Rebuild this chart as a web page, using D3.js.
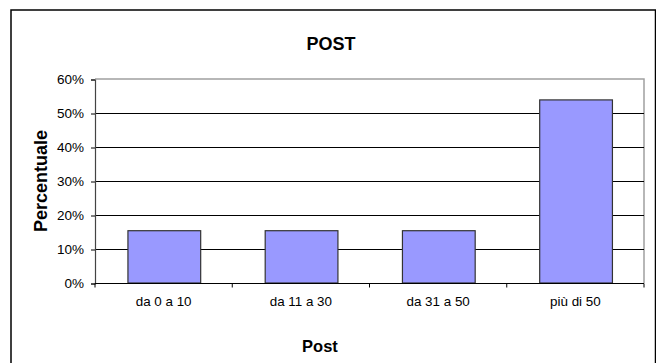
<!DOCTYPE html>
<html><head><meta charset="utf-8">
<script src="https://cdn.jsdelivr.net/npm/d3@7"></script>
<style>body{margin:0;background:#fff}svg{display:block}text{font-family:Arial,"Liberation Sans",sans-serif}</style>
</head><body><svg id="c" width="656" height="363"></svg>
<script>
const categories = ["da 0 a 10", "da 11 a 30", "da 31 a 50", "più di 50"];
const values = [15.38, 15.38, 15.38, 53.85];
const yTicks = [0, 10, 20, 30, 40, 50, 60];
const title = "POST";
const xTitle = "Post";
const yTitle = "Percentuale";

const svg = d3.select("#c");
const L = 95, R = 644, T = 79, B = 283;
const FONT = "Arial,'Liberation Sans',sans-serif";

// outer frame
svg.append("rect").attr("x", 11).attr("y", 10).attr("width", 644.5).attr("height", 360)
  .attr("fill", "#fff").attr("stroke", "#000").attr("stroke-width", 1.5);

const xb = d3.scaleBand().domain(categories).range([L, R]);
const y = d3.scaleLinear().domain([0, 60]).range([B, T]);

// plot area border (top/right gray)
svg.append("path").attr("d", `M${L},${T}H${R}V${B}`).attr("fill", "none").attr("stroke", "#a0a0a0").attr("stroke-width", 1.5);

// gridlines
svg.append("g").selectAll("line").data(yTicks.filter(d => d > 0 && d < 60)).join("line")
  .attr("x1", L).attr("x2", R).attr("y1", d => y(d) + 0.5).attr("y2", d => y(d) + 0.5)
  .attr("stroke", "#000").attr("stroke-width", 1);

// bars
svg.append("g").selectAll("rect").data(values).join("rect")
  .attr("x", (d, i) => xb(categories[i]) + xb.bandwidth() * 0.24)
  .attr("width", xb.bandwidth() * 0.53)
  .attr("y", d => y(d))
  .attr("height", d => B - y(d))
  .attr("fill", "#9999ff").attr("stroke", "#333").attr("stroke-width", 1.2);

// y axis
const ya = d3.axisLeft(y).tickValues(yTicks).tickFormat(d => d + "%").tickSize(4).tickPadding(7);
svg.append("g").attr("transform", `translate(${L},0.5)`).call(ya)
  .call(g => g.select(".domain").attr("stroke", "#444").attr("stroke-width", 1.2))
  .call(g => g.selectAll("text").attr("font-size", 13.5).attr("fill", "#000").attr("font-family", FONT));

// x axis
const xa = d3.axisBottom(xb).tickSize(0).tickPadding(13);
const gx = svg.append("g").attr("transform", `translate(0,${B + 0.5})`).call(xa);
gx.select(".domain").attr("d", `M${L},0H${R}`).attr("stroke", "#000").attr("stroke-width", 1.2);
gx.selectAll("text").attr("font-size", 13.4).attr("fill", "#000").attr("font-family", FONT);
gx.selectAll(".sep").data(categories.concat(["_end"])).join("line").attr("class", "sep")
  .attr("x1", (d, i) => L + i * xb.step()).attr("x2", (d, i) => L + i * xb.step())
  .attr("y1", 0).attr("y2", 4).attr("stroke", "#000");

// titles
svg.append("text").attr("x", 331).attr("y", 50).attr("text-anchor", "middle")
  .attr("font-size", 18).attr("font-weight", "bold").text(title);
svg.append("text").attr("x", 320).attr("y", 352).attr("text-anchor", "middle")
  .attr("font-size", 16.5).attr("font-weight", "bold").text(xTitle);
svg.append("text").attr("transform", `translate(47,${(T + B) / 2}) rotate(-90)`).attr("text-anchor", "middle")
  .attr("font-size", 18).attr("font-weight", "bold").text(yTitle);
</script></body></html>
